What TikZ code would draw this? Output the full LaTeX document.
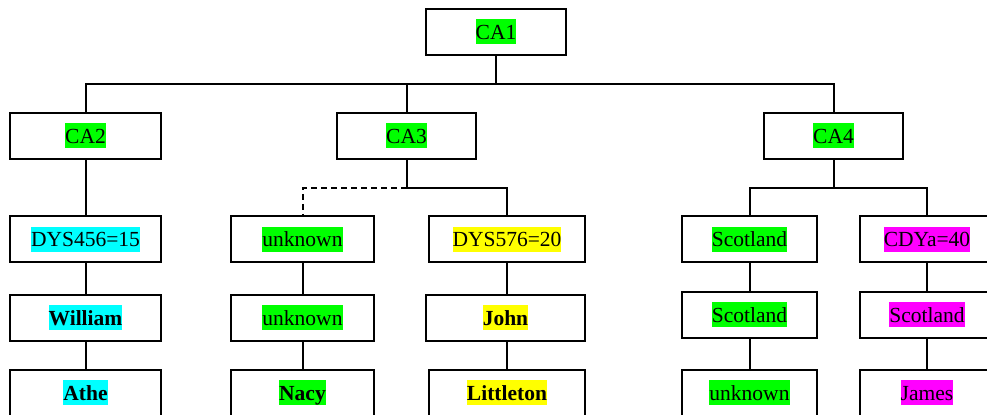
\documentclass[tikz,border=0pt]{standalone}
\usepackage{fontspec}
\setmainfont{Liberation Serif}
\usepackage{xcolor}
\definecolor{hlgreen}{HTML}{00FF00}
\definecolor{hlcyan}{HTML}{00FFFF}
\definecolor{hlyellow}{HTML}{FFFF00}
\definecolor{hlmagenta}{HTML}{FF00FF}
\newcommand{\hlbox}[2]{{\setlength{\fboxsep}{0pt}\colorbox{#1}{\rule[-2.6pt]{0pt}{12.5pt}#2}}}
\tikzset{
  box/.style={draw, line width=1pt, minimum height=23pt, inner sep=0pt,
    font=\fontsize{10.75}{12.9}\selectfont},
  wire/.style={line width=1pt}
}

\begin{document}
\begin{tikzpicture}[x=0.5pt, y=-0.5pt]
					\clip (0,0) rectangle (987,415);
					\node[box, minimum width=70pt] (ca1) at (496, 32) {\hlbox{hlgreen}{CA1}};
					\node[box, minimum width=75.5pt] (ca2) at (85.5, 136) {\hlbox{hlgreen}{CA2}};
					\node[box, minimum width=69.5pt] (ca3) at (406.5, 136) {\hlbox{hlgreen}{CA3}};
					\node[box, minimum width=69.5pt] (ca4) at (833.5, 136) {\hlbox{hlgreen}{CA4}};
					\node[box, minimum width=75.5pt] (dys456) at (85.5, 239.5) {\hlbox{hlcyan}{DYS456=15}};
					\node[box, minimum width=75.5pt] (william) at (85.5, 318) {\hlbox{hlcyan}{\bfseries William}};
					\node[box, minimum width=75.5pt] (athe) at (85.5, 393) {\hlbox{hlcyan}{\bfseries Athe}};
					\node[box, minimum width=71.5pt] (unk1) at (302.5, 239.5) {\hlbox{hlgreen}{unknown}};
					\node[box, minimum width=71.5pt] (unk2) at (302.5, 318) {\hlbox{hlgreen}{unknown}};
					\node[box, minimum width=71.5pt] (nacy) at (302.5, 393) {\hlbox{hlgreen}{\bfseries Nacy}};
					\node[box, minimum width=78pt] (dys576) at (507, 239.5) {\hlbox{hlyellow}{DYS576=20}};
					\node[box, minimum width=79.5pt] (john) at (505.5, 318) {\hlbox{hlyellow}{\bfseries John}};
					\node[box, minimum width=78pt] (littleton) at (507, 393) {\hlbox{hlyellow}{\bfseries Littleton}};
					\node[box, minimum width=67.5pt] (scot1) at (749.5, 239.5) {\hlbox{hlgreen}{Scotland}};
					\node[box, minimum width=67.5pt] (scot2) at (749.5, 315) {\hlbox{hlgreen}{Scotland}};
					\node[box, minimum width=67.5pt] (unk3) at (749.5, 393) {\hlbox{hlgreen}{unknown}};
					\node[box, minimum width=67pt] (cdya) at (927, 239.5) {\hlbox{hlmagenta}{CDYa=40}};
					\node[box, minimum width=67pt] (scot3) at (927, 315) {\hlbox{hlmagenta}{Scotland}};
					\node[box, minimum width=67pt] (james) at (927, 393) {\hlbox{hlmagenta}{James}};
					\coordinate (bar1) at (0, 84);
					\coordinate (bar2) at (0, 188);
					\draw[wire] (ca1.south) -- (ca1.south |- bar1) -| (ca2.north);
					\draw[wire] (ca1.south |- bar1) -| (ca3.north);
					\draw[wire] (ca1.south |- bar1) -| (ca4.north);
					\draw[wire] (ca2) -- (dys456);
					\draw[wire] (ca3.south) -- (ca3.south |- bar2) -| (dys576.north);
					\draw[wire, dash pattern=on 3pt off 2pt] (ca3.south |- bar2) -| (unk1.north);
					\draw[wire] (ca4.south) -- (ca4.south |- bar2) -| (scot1.north);
					\draw[wire] (ca4.south |- bar2) -| (cdya.north);
					\draw[wire] (dys456) -- (william);
					\draw[wire] (william) -- (athe);
					\draw[wire] (unk1) -- (unk2);
					\draw[wire] (unk2) -- (nacy);
					\draw[wire] (dys576.south) -- (dys576.south |- john.north);
					\draw[wire] (littleton.north |- john.south) -- (littleton.north);
					\draw[wire] (scot1) -- (scot2);
					\draw[wire] (scot2) -- (unk3);
					\draw[wire] (cdya) -- (scot3);
					\draw[wire] (scot3) -- (james);
				\end{tikzpicture}
\end{document}
